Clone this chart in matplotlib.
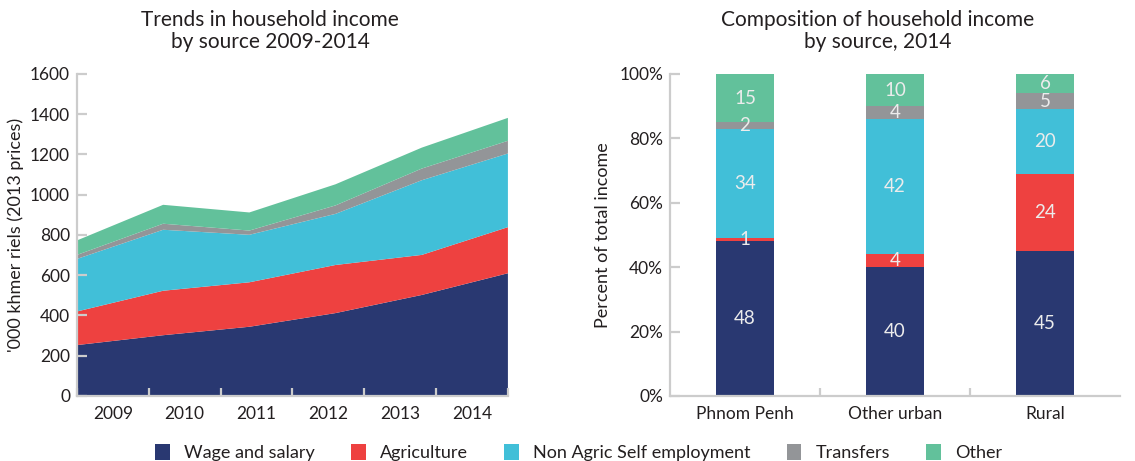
import numpy as np
import matplotlib
matplotlib.use("Agg")
import matplotlib.pyplot as plt
from matplotlib.patches import Patch

plt.rcParams['font.family'] = ['Lato', 'DejaVu Sans']

# left panel: household income by source, '000 riels (2013 prices)
years = ['2009', '2010', '2011', '2012', '2013', '2014']
wage = [253, 302, 344, 412, 502, 610]
agri = [167, 221, 221, 239, 199, 229]
nonagri = [261, 303, 236, 254, 371, 366]
transfers = [20, 30, 21, 42, 58, 63]
other = [72, 94, 90, 105, 104, 114]

# right panel: composition 2014, percent
areas = ['Phnom Penh', 'Other urban', 'Rural']
comp_wage = [48, 40, 45]
comp_agri = [1, 4, 24]
comp_nonagri = [34, 42, 20]
comp_transfers = [2, 4, 5]
comp_other = [15, 10, 6]

names = ['Wage and salary', 'Agriculture', 'Non Agric Self employment', 'Transfers', 'Other']
colors = ['#293871', '#ee4140', '#41bfd8', '#939598', '#62c19b']
spine_col = '#cccccc'
txt_col = '#231f20'

fig = plt.figure(figsize=(11.35, 4.61), dpi=100)
ax1 = fig.add_axes([0.0678, 0.141, 0.3797, 0.6985])
ax2 = fig.add_axes([0.5903, 0.141, 0.3965, 0.6985])


def style(ax):
    for s in ['top', 'right']:
        ax.spines[s].set_visible(False)
    for s in ['left', 'bottom']:
        ax.spines[s].set_color(spine_col)
        ax.spines[s].set_linewidth(1.6)
    ax.tick_params(which='both', direction='in', color=spine_col, width=1.6,
                   labelsize=12.5, labelcolor=txt_col)


# ---- left: stacked area
n = len(years)
x = np.arange(n)
ax1.stackplot(x, wage, agri, nonagri, transfers, other, colors=colors, linewidth=0)
ax1.set_xlim(0, n - 1)
ax1.set_ylim(0, 1600)
ax1.set_yticks(np.arange(0, 1601, 200))
style(ax1)
ax1.tick_params(axis='y', length=7, pad=5)
w = (n - 1) / n
ax1.set_xticks([i * w for i in range(n + 1)], minor=True)
ax1.set_xticks([(i + 0.5) * w for i in range(n)])
ax1.set_xticklabels(years)
ax1.tick_params(axis='x', which='major', length=0, pad=7)
ax1.tick_params(axis='x', which='minor', length=6)
ax1.set_ylabel("'000 khmer riels (2013 prices)", fontsize=13, color=txt_col, labelpad=4)

# ---- right: stacked bars
xb = np.arange(len(areas))
bottom = np.zeros(len(areas))
for vals, c in zip([comp_wage, comp_agri, comp_nonagri, comp_transfers, comp_other], colors):
    ax2.bar(xb, vals, 0.39, bottom=bottom, color=c, linewidth=0)
    for xi, v, b in zip(xb, vals, bottom):
        ax2.text(xi, b + v / 2, str(v), ha='center', va='center', fontsize=13.5,
                 color='#ececec')
    bottom = bottom + np.array(vals)
ax2.set_xlim(-0.5, len(areas) - 0.5)
ax2.set_ylim(0, 100)
ax2.set_yticks(np.arange(0, 101, 20))
ax2.set_yticklabels([f'{v}%' for v in range(0, 101, 20)])
style(ax2)
ax2.tick_params(axis='y', length=7, pad=5)
ax2.set_xticks(xb)
ax2.set_xticklabels(areas)
ax2.set_xticks([0.5, 1.5], minor=True)
ax2.tick_params(axis='x', which='major', length=0, pad=7)
ax2.tick_params(axis='x', which='minor', length=6)
ax2.set_ylabel('Percent of total income', fontsize=13, color=txt_col, labelpad=6)

# titles
fig.text(0.238, 0.978, 'Trends in household income\nby source 2009-2014', ha='center',
         va='top', fontsize=15, color=txt_col, linespacing=1.1)
fig.text(0.773, 0.978, 'Composition of household income\nby source, 2014', ha='center',
         va='top', fontsize=15, color=txt_col, linespacing=1.1)

handles = [Patch(facecolor=c, edgecolor='none') for c in colors]
fig.legend(handles, names, loc='lower center', bbox_to_anchor=(0.510, -0.035), ncol=5,
           frameon=False, fontsize=13, handlelength=0.8, handleheight=1.0,
           columnspacing=2.0, handletextpad=0.8, labelcolor=txt_col)

fig.savefig('out.png', dpi=100)
